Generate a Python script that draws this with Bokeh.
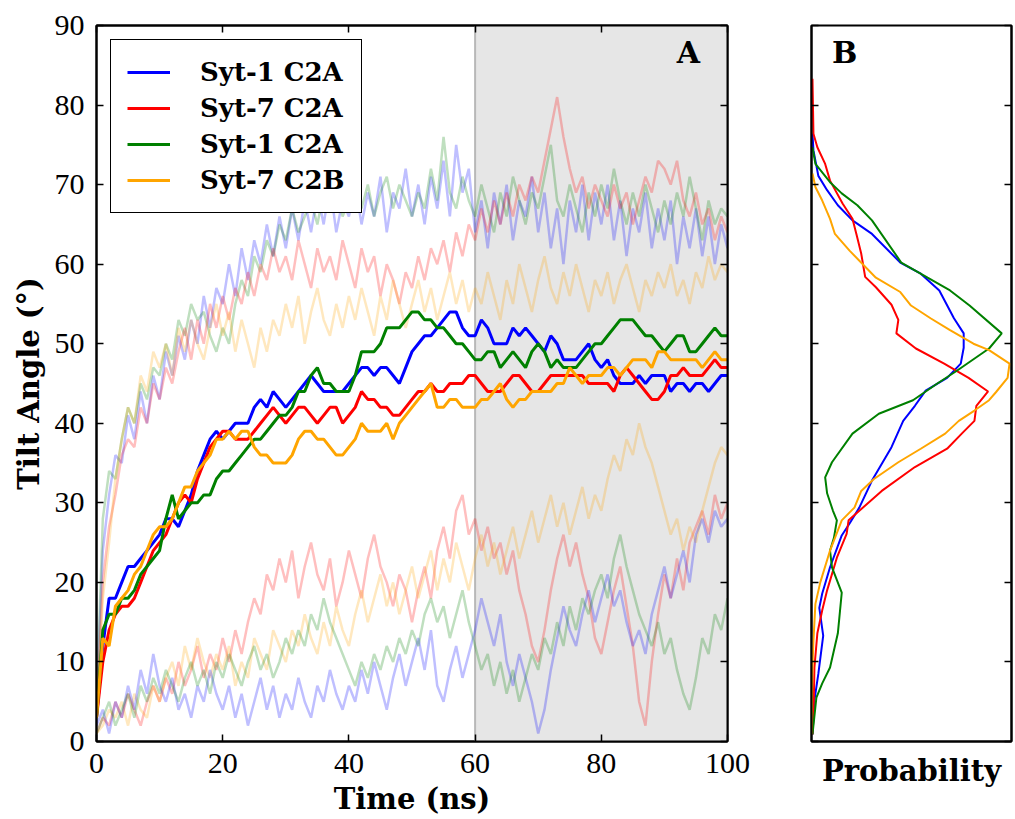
from bokeh.plotting import figure
from bokeh.layouts import row
from bokeh.models import (LinearAxis, SingleIntervalTicker, BoxAnnotation, Span,
                          Legend, LegendItem, Label, Range1d)
from bokeh.embed import file_html
from bokeh.resources import INLINE

# ---------------- data ----------------
time_ns = list(range(101))

# main (averaged) traces, panel A
syt1_c2a_blue = [3, 12, 18, 18, 20, 22, 22, 23, 24, 25,
                 26, 28, 28, 27, 29, 31, 34, 36, 38, 39,
                 38, 39, 40, 40, 40, 42, 43, 42, 44, 43,
                 42, 43, 44, 45, 46, 45, 44, 44, 44, 44,
                 45, 46, 47, 47, 46, 47, 47, 46, 45, 47,
                 49, 50, 51, 51, 52, 53, 54, 54, 52, 51,
                 51, 53, 52, 50, 50, 50, 52, 51, 52, 51,
                 50, 49, 51, 50, 48, 48, 48, 49, 50, 48,
                 47, 48, 46, 45, 45, 45, 46, 45, 46, 46,
                 46, 44, 45, 45, 44, 45, 45, 44, 45, 46, 46]
syt7_c2a_red = [3, 10, 14, 16, 17, 17, 18, 20, 22, 24,
                25, 26, 28, 30, 31, 30, 33, 35, 37, 38,
                39, 39, 38, 38, 38, 39, 40, 41, 42, 41,
                40, 41, 42, 42, 41, 40, 41, 42, 42, 40,
                41, 42, 44, 43, 43, 42, 42, 41, 41, 42,
                43, 44, 44, 45, 44, 44, 45, 45, 45, 46,
                46, 45, 44, 44, 44, 45, 46, 46, 45, 44,
                44, 45, 46, 46, 46, 46, 46, 46, 45, 45,
                45, 45, 44, 46, 47, 46, 45, 44, 43, 43,
                44, 46, 46, 47, 46, 46, 46, 47, 48, 47, 47]
syt1_c2a_green = [3, 14, 16, 16, 18, 18, 19, 21, 22, 23,
                  24, 28, 31, 28, 29, 30, 30, 31, 31, 33,
                  34, 34, 35, 36, 37, 38, 38, 39, 40, 41,
                  41, 42, 44, 44, 46, 47, 45, 45, 44, 44,
                  44, 46, 49, 49, 49, 50, 52, 52, 52, 53,
                  54, 54, 53, 53, 52, 52, 51, 50, 50, 49,
                  48, 48, 49, 49, 47, 48, 49, 48, 47, 49,
                  50, 49, 47, 48, 47, 47, 47, 48, 49, 50,
                  50, 51, 52, 53, 53, 53, 52, 51, 51, 50,
                  49, 50, 51, 51, 49, 49, 50, 51, 52, 51, 51]
syt7_c2b_orange = [3, 13, 12, 17, 18, 19, 21, 22, 24, 26,
                   27, 27, 28, 30, 32, 32, 34, 35, 36, 38,
                   38, 39, 38, 39, 39, 37, 36, 36, 35, 35,
                   35, 36, 38, 39, 39, 38, 38, 37, 36, 36,
                   37, 38, 40, 39, 39, 39, 40, 38, 40, 41,
                   42, 43, 44, 45, 42, 42, 43, 43, 42, 42,
                   42, 43, 43, 44, 45, 43, 42, 43, 43, 44,
                   44, 44, 44, 45, 45, 47, 46, 45, 46, 46,
                   46, 47, 47, 46, 47, 48, 48, 48, 47, 49,
                   49, 48, 48, 48, 48, 48, 47, 48, 49, 48, 48]

# individual replicas (faint), panel A
blue_rep_high = [5, 24, 31, 36, 35, 41, 38, 44, 40, 46,
                 43, 49, 46, 51, 48, 53, 50, 56, 52, 57,
                 55, 60, 56, 62, 58, 63, 60, 65, 61, 66,
                 62, 67, 63, 68, 64, 69, 65, 70, 64, 68,
                 66, 70, 65, 69, 66, 71, 64, 69, 67, 72,
                 66, 70, 65, 71, 67, 73, 66, 75, 69, 72,
                 64, 68, 62, 69, 65, 70, 63, 68, 66, 71,
                 64, 69, 62, 67, 60, 68, 64, 70, 63, 69,
                 65, 70, 63, 68, 61, 67, 64, 69, 62, 67,
                 63, 68, 60, 66, 62, 67, 61, 66, 60, 65, 62]
green_rep_high = [4, 28, 34, 33, 38, 42, 40, 45, 43, 47,
                  46, 50, 48, 53, 51, 55, 53, 54, 51, 49,
                  52, 50, 55, 58, 56, 61, 59, 63, 61, 65,
                  63, 67, 64, 66, 68, 65, 69, 67, 70, 66,
                  68, 71, 67, 70, 66, 69, 71, 67, 70, 68,
                  66, 69, 67, 72, 68, 76, 69, 67, 71, 68,
                  66, 70, 67, 64, 69, 66, 71, 68, 65, 69,
                  67, 71, 75, 68, 66, 70, 67, 64, 69, 66,
                  70, 67, 72, 68, 65, 69, 66, 70, 67, 64,
                  68, 65, 69, 66, 71, 67, 63, 68, 65, 67, 66]
red_rep_high = [3, 20, 27, 31, 36, 38, 37, 42, 40, 45,
                43, 47, 45, 49, 52, 48, 53, 50, 55, 52,
                56, 53, 57, 55, 59, 56, 60, 58, 62, 59,
                61, 58, 63, 60, 57, 62, 59, 61, 58, 63,
                60, 57, 62, 59, 61, 56, 60, 58, 55, 59,
                57, 61, 58, 62, 60, 63, 59, 64, 61, 65,
                63, 67, 64, 68, 65, 69, 66, 70, 68, 71,
                69, 73, 77, 81, 76, 72, 69, 71, 67, 70,
                68, 66, 70, 67, 69, 65, 68, 71, 69, 73,
                72, 70, 73, 68, 66, 69, 65, 67, 63, 66, 64]
orange_rep_high = [3, 18, 25, 33, 38, 42, 40, 46, 44, 49,
                   47, 50, 46, 52, 49, 53, 50, 48, 52, 55,
                   51, 54, 49, 53, 50, 47, 52, 49, 53, 51,
                   55, 52, 56, 50, 54, 57, 53, 51, 55, 52,
                   56, 53, 57, 54, 51, 56, 53, 58, 55, 52,
                   55, 58, 54, 57, 53, 56, 59, 55, 58, 54,
                   57, 55, 59, 56, 53, 58, 55, 60, 57, 54,
                   58, 61, 57, 55, 59, 56, 60, 57, 54, 58,
                   56, 59, 55, 58, 60, 57, 54, 58, 56, 59,
                   57, 60, 56, 58, 55, 59, 57, 61, 58, 60, 59]
red_rep_low = [1, 3, 2, 5, 3, 6, 4, 2, 5, 7,
               5, 8, 6, 10, 7, 9, 12, 8, 11, 9,
               13, 10, 14, 11, 15, 18, 16, 21, 19, 23,
               20, 24, 18, 22, 25, 21, 19, 23, 17, 20,
               24, 21, 18, 23, 26, 22, 20, 17, 21, 19,
               15, 19, 22, 18, 24, 27, 23, 29, 31, 26,
               28, 24, 27, 23, 25, 21, 24, 19, 16, 12,
               10, 14, 19, 23, 26, 22, 25, 21, 18, 13,
               11, 15, 19, 22, 17, 12, 5, 2, 10, 16,
               21, 18, 23, 19, 25, 27, 29, 26, 31, 28, 30]
orange_rep_low = [1, 2, 4, 3, 5, 2, 6, 4, 3, 7,
                  5, 8, 10, 7, 12, 9, 13, 10, 8, 11,
                  9, 12, 7, 10, 8, 13, 11, 9, 14, 12,
                  10, 14, 12, 16, 13, 11, 15, 12, 17, 14,
                  12, 16, 19, 15, 18, 21, 17, 20, 16, 19,
                  22, 18, 21, 24, 19, 23, 20, 25, 22, 19,
                  23, 26, 22, 25, 21, 24, 27, 23, 26, 29,
                  25, 28, 31, 27, 30, 26, 29, 32, 28, 31,
                  29, 33, 36, 34, 38, 36, 40, 37, 35, 32,
                  29, 26, 28, 24, 27, 25, 29, 32, 35, 37, 36]
blue_rep_low = [2, 4, 1, 5, 3, 7, 4, 9, 6, 11,
                7, 5, 8, 4, 6, 3, 7, 5, 9, 6,
                4, 7, 3, 6, 2, 5, 8, 4, 7, 3,
                6, 4, 8, 5, 3, 7, 5, 9, 6, 4,
                7, 5, 9, 6, 10, 7, 4, 8, 11, 7,
                10, 13, 9, 14, 7, 5, 9, 12, 8, 11,
                14, 18, 15, 12, 16, 10, 7, 11, 8, 5,
                1, 4, 9, 13, 17, 14, 12, 16, 19, 15,
                18, 21, 17, 19, 15, 12, 14, 11, 16, 19,
                22, 18, 21, 24, 20, 26, 28, 25, 29, 27, 28]
green_rep_low = [1, 3, 5, 2, 4, 6, 3, 7, 5, 8,
                 6, 9, 7, 5, 8, 10, 7, 9, 6, 10,
                 8, 11, 9, 7, 10, 12, 9, 11, 8, 10,
                 13, 11, 14, 12, 16, 14, 18, 15, 13, 11,
                 9, 7, 10, 8, 11, 9, 12, 10, 13, 11,
                 14, 12, 16, 18, 15, 17, 13, 16, 19, 15,
                 12, 9, 11, 7, 10, 6, 9, 5, 8, 11,
                 9, 13, 11, 15, 12, 17, 14, 18, 16, 19,
                 21, 18, 23, 26, 22, 19, 16, 14, 12, 15,
                 11, 13, 9, 6, 4, 8, 13, 11, 16, 14, 18]

# panel B: probability distributions of tilt angle
blue_dist_angle = [76.4, 74.3, 71.1, 69.3, 67.4, 65.5, 63.8, 60.2, 58.8, 56.7,
                   53.2, 51.3, 49.5, 47.5, 45.7, 44.1, 42.2, 40.3, 37.0, 32.8,
                   29.4, 27.4, 25.9, 21.9, 18.6, 16.8, 13.3, 8.5, 5.2, 0.9]
blue_dist_prob = [0.001, 0.002, 0.007, 0.016, 0.027, 0.042, 0.062, 0.091, 0.112, 0.131,
                  0.146, 0.156, 0.156, 0.153, 0.139, 0.117, 0.106, 0.094, 0.082, 0.062,
                  0.049, 0.039, 0.031, 0.019, 0.011, 0.008, 0.012, 0.007, 0.003, 0.001]
red_dist_angle = [83.3, 76.4, 74.7, 72.6, 70.5, 67.6, 65.7, 63.8, 61.3, 58.4,
                  57.1, 54.9, 53.0, 51.3, 49.4, 47.5, 45.7, 44.0, 42.2, 40.3,
                  38.7, 36.8, 34.5, 31.5, 29.0, 27.8, 26.1, 23.1, 19.0, 16.5,
                  13.6, 9.3, 3.0, 0.9]
red_dist_prob = [0.001, 0.002, 0.006, 0.014, 0.019, 0.032, 0.042, 0.046, 0.051, 0.055,
                 0.066, 0.082, 0.089, 0.087, 0.107, 0.136, 0.161, 0.181, 0.169, 0.167,
                 0.154, 0.139, 0.106, 0.072, 0.049, 0.038, 0.036, 0.026, 0.016, 0.011,
                 0.006, 0.003, 0.002, 0.001]
green_dist_angle = [74.7, 72.6, 70.3, 68.9, 67.4, 65.5, 60.2, 58.3, 56.7, 54.8,
                    51.3, 49.4, 46.6, 45.0, 42.9, 41.2, 38.7, 35.1, 33.2, 31.2,
                    29.0, 27.8, 25.6, 24.0, 21.9, 18.7, 13.6, 9.3, 7.3, 5.5, 0.9]
green_dist_prob = [0.001, 0.004, 0.019, 0.031, 0.047, 0.062, 0.092, 0.119, 0.142, 0.162,
                   0.195, 0.182, 0.149, 0.129, 0.104, 0.069, 0.042, 0.021, 0.014, 0.016,
                   0.022, 0.026, 0.023, 0.019, 0.021, 0.031, 0.027, 0.019, 0.011, 0.005, 0.001]
orange_dist_angle = [71.4, 69.7, 68.0, 65.7, 63.8, 61.7, 58.3, 56.5, 54.8, 53.2,
                     51.7, 50.0, 49.2, 47.5, 45.7, 43.9, 42.9, 41.6, 40.3, 38.7,
                     36.8, 35.1, 33.0, 31.5, 29.4, 27.8, 24.0, 20.0, 17.3, 12.7,
                     9.3, 0.9]
orange_dist_prob = [0.001, 0.004, 0.011, 0.019, 0.024, 0.039, 0.066, 0.091, 0.102, 0.122,
                    0.142, 0.166, 0.182, 0.203, 0.201, 0.189, 0.182, 0.167, 0.151, 0.137,
                    0.112, 0.089, 0.064, 0.051, 0.044, 0.031, 0.019, 0.009, 0.004, 0.002,
                    0.001, 0.0]

series_names = ["Syt-1 C2A", "Syt-7 C2A", "Syt-1 C2A", "Syt-7 C2B"]
x_ticks_interval = 20
y_ticks_interval = 10

BLUE, RED, GREEN, ORANGE = "#0000ff", "#ff0000", "#008000", "#ffa500"
SERIF = "Liberation Serif"
BOLD_SERIF = "DejaVu Serif"

# ---------------- panel A ----------------
p = figure(width=760, height=819, x_range=Range1d(0, 100), y_range=Range1d(0, 90),
           output_backend="svg", toolbar_location=None,
           min_border_left=96, min_border_right=33, min_border_top=25, min_border_bottom=78)
p.grid.visible = False
p.outline_line_color = "black"
p.outline_line_width = 2

p.add_layout(BoxAnnotation(left=60, right=100, fill_color="#e6e6e6", fill_alpha=1.0,
                           line_color=None, level="underlay"))
p.add_layout(Span(location=60, dimension="height", line_color="#b8b8b8", line_width=2,
                  level="underlay"))

faint = [(blue_rep_high, BLUE), (green_rep_high, GREEN), (red_rep_high, RED),
         (orange_rep_high, ORANGE), (red_rep_low, RED), (orange_rep_low, ORANGE),
         (blue_rep_low, BLUE), (green_rep_low, GREEN)]
for ys, c in faint:
    p.line(time_ns, ys, line_color=c, line_alpha=0.25, line_width=2.5)

r_blue = p.line(time_ns, syt1_c2a_blue, line_color=BLUE, line_width=3)
r_red = p.line(time_ns, syt7_c2a_red, line_color=RED, line_width=3)
r_green = p.line(time_ns, syt1_c2a_green, line_color=GREEN, line_width=3)
r_orange = p.line(time_ns, syt7_c2b_orange, line_color=ORANGE, line_width=3)

def style_axis(ax, show_labels=True):
    ax.axis_line_color = "black"
    ax.axis_line_width = 2
    ax.major_tick_in = 7
    ax.major_tick_out = 0
    ax.major_tick_line_color = "black"
    ax.major_tick_line_width = 1.5
    ax.minor_tick_line_color = None
    if show_labels:
        ax.major_label_text_font = SERIF
        ax.major_label_text_font_size = "30px"
        ax.major_label_text_color = "black"
        ax.major_label_standoff = 8
    else:
        ax.major_label_text_font_size = "1px"
        ax.major_label_text_color = None
        ax.major_label_standoff = 0
    ax.axis_label_text_font = BOLD_SERIF
    ax.axis_label_text_font_style = "bold"
    ax.axis_label_text_font_size = "29px"
    ax.axis_label_text_color = "black"
    ax.axis_label_standoff = 6

p.xaxis.ticker = SingleIntervalTicker(interval=x_ticks_interval)
p.yaxis.ticker = SingleIntervalTicker(interval=y_ticks_interval)
style_axis(p.xaxis[0])
style_axis(p.yaxis[0])
p.xaxis.axis_label = "Time (ns)"
p.yaxis.axis_label = "Tilt Angle (°)"

top_ax = LinearAxis(ticker=SingleIntervalTicker(interval=x_ticks_interval))
style_axis(top_ax, show_labels=False)
p.add_layout(top_ax, "above")
right_ax = LinearAxis(ticker=SingleIntervalTicker(interval=y_ticks_interval))
style_axis(right_ax, show_labels=False)
p.add_layout(right_ax, "right")

legend = Legend(items=[LegendItem(label=series_names[0], renderers=[r_blue]),
                       LegendItem(label=series_names[1], renderers=[r_red]),
                       LegendItem(label=series_names[2], renderers=[r_green]),
                       LegendItem(label=series_names[3], renderers=[r_orange])],
                location="top_left")
legend.label_text_font = BOLD_SERIF
legend.label_text_font_style = "bold"
legend.label_text_font_size = "26px"
legend.label_text_color = "black"
legend.border_line_color = "black"
legend.border_line_width = 1.5
legend.border_line_alpha = 1.0
legend.background_fill_color = "white"
legend.background_fill_alpha = 1.0
legend.glyph_width = 43
legend.glyph_height = 30
legend.label_height = 32
legend.label_standoff = 30
legend.padding = 16
legend.spacing = 4
legend.margin = 14
p.add_layout(legend)

p.add_layout(Label(x=93.8, y=86.6, text="A", text_font=BOLD_SERIF, text_font_style="bold",
                   text_font_size="30px", text_color="black",
                   text_align="center", text_baseline="middle"))

# ---------------- panel B ----------------
pb = figure(width=255, height=819, x_range=Range1d(0, 0.205), y_range=Range1d(0, 90),
            output_backend="svg", toolbar_location=None,
            min_border_left=51, min_border_right=1, min_border_top=25, min_border_bottom=78)
pb.grid.visible = False
pb.outline_line_color = "black"
pb.outline_line_width = 2

pb.line(blue_dist_prob, blue_dist_angle, line_color=BLUE, line_width=2)
pb.line(red_dist_prob, red_dist_angle, line_color=RED, line_width=2)
pb.line(green_dist_prob, green_dist_angle, line_color=GREEN, line_width=2)
pb.line(orange_dist_prob, orange_dist_angle, line_color=ORANGE, line_width=2)

pb.yaxis.ticker = SingleIntervalTicker(interval=y_ticks_interval)
style_axis(pb.yaxis[0], show_labels=False)
style_axis(pb.xaxis[0], show_labels=False)
pb.xaxis.major_tick_line_color = None
pb.xaxis.axis_label = "Probability"
pb.xaxis.axis_label_standoff = 8
rb_ax = LinearAxis(ticker=SingleIntervalTicker(interval=y_ticks_interval))
style_axis(rb_ax, show_labels=False)
pb.add_layout(rb_ax, "right")

pb.add_layout(Label(x=0.034, y=86.6, text="B", text_font=BOLD_SERIF, text_font_style="bold",
                    text_font_size="30px", text_color="black",
                    text_align="center", text_baseline="middle"))

layout = row(p, pb, spacing=0)
open("out.html", "w").write(file_html(layout, INLINE))
